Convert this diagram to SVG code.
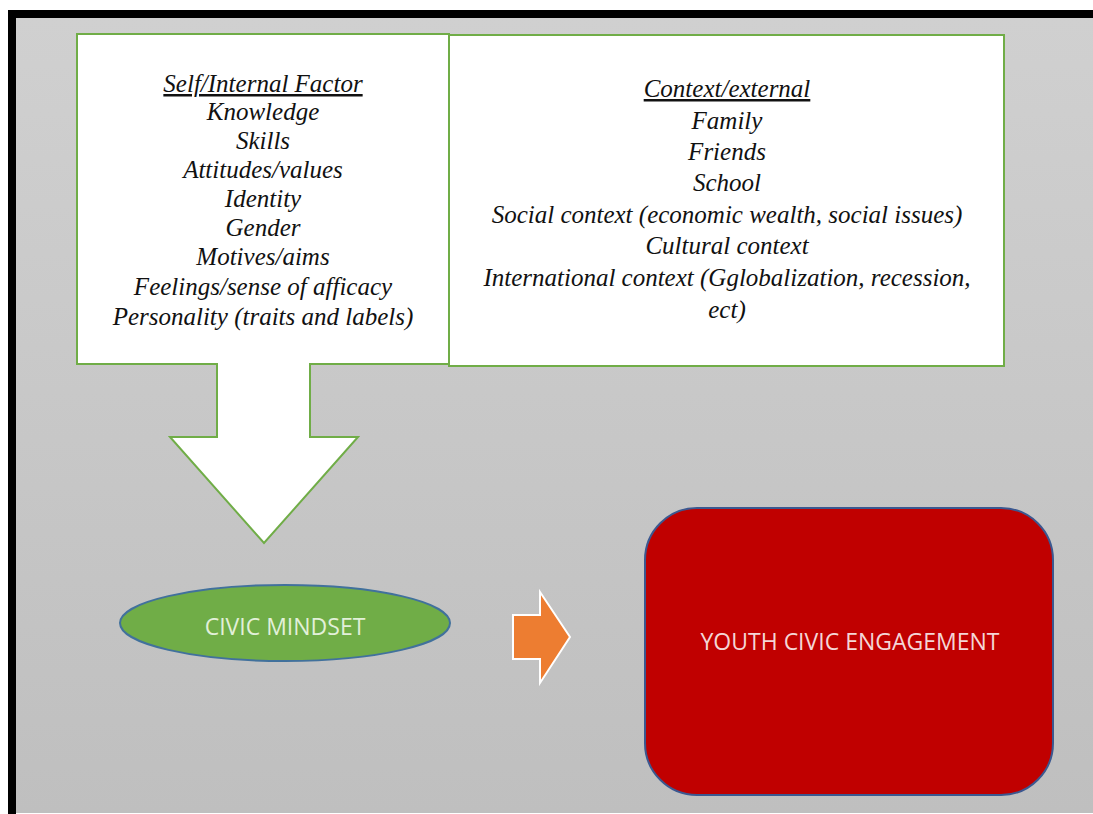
<svg xmlns="http://www.w3.org/2000/svg" width="1093" height="814" viewBox="0 0 1093 814">
<defs>
<linearGradient id="bg" x1="0" y1="0" x2="0" y2="1">
<stop offset="0" stop-color="#d0d0d0"/>
<stop offset="1" stop-color="#bfbfbf"/>
</linearGradient>
</defs>
<style>
.box{fill:#ffffff;stroke:#70ad47;stroke-width:2}
.it{font-family:"Liberation Serif","Times New Roman",serif;font-style:italic;font-size:25px;fill:#111;text-anchor:middle}
.ul{text-decoration:underline}
.sans{font-family:"Open Sans","Liberation Sans",sans-serif;text-anchor:middle;font-size:23px}
</style>
<rect x="0" y="0" width="1093" height="814" fill="#ffffff"/>
<rect x="16" y="18" width="1077" height="795" fill="url(#bg)"/>
<rect x="8" y="10" width="1085" height="8" fill="#000"/>
<rect x="8" y="10" width="8" height="804" fill="#000"/>
<g id="internal">
<path class="box" d="M77,34 H449 V364 H310 V437 H358 L264,543 L170,437 H217 V364 H77 Z"/>
<text class="it" x="263" y="92"><tspan class="ul">Self/Internal Factor</tspan></text>
<text class="it" x="263" y="120">Knowledge</text>
<text class="it" x="263" y="149">Skills</text>
<text class="it" x="263" y="178">Attitudes/values</text>
<text class="it" x="263" y="207">Identity</text>
<text class="it" x="263" y="236">Gender</text>
<text class="it" x="263" y="265">Motives/aims</text>
<text class="it" x="263" y="295">Feelings/sense of afficacy</text>
<text class="it" x="263" y="325">Personality (traits and labels)</text>
</g>
<g id="external">
<rect class="box" x="449" y="35" width="555" height="331"/>
<text class="it" x="727" y="97"><tspan class="ul">Context/external</tspan></text>
<text class="it" x="727" y="129">Family</text>
<text class="it" x="727" y="160">Friends</text>
<text class="it" x="727" y="191">School</text>
<text class="it" x="727" y="223">Social context (economic wealth, social issues)</text>
<text class="it" x="727" y="254">Cultural context</text>
<text class="it" x="727" y="286">International context (Gglobalization, recession,</text>
<text class="it" x="727" y="318">ect)</text>
</g>
<g id="mindset">
<ellipse cx="285" cy="623" rx="165" ry="38" fill="#70ad47" stroke="#41719c" stroke-width="2"/>
<text class="sans" x="285" y="635" fill="#e2f0d9">CIVIC MINDSET</text>
</g>
<g id="connectors">
<path d="M513,615 H540 V592 L570,637 L540,683 V659 H513 Z" fill="#ed7d31" stroke="#ffffff" stroke-width="2"/>
</g>
<g id="engagement">
<rect x="645" y="508" width="408" height="287" rx="52" fill="#c00000" stroke="#3b5890" stroke-width="2"/>
<text class="sans" x="850" y="650" fill="#f4d6d6">YOUTH CIVIC ENGAGEMENT</text>
</g>
</svg>
